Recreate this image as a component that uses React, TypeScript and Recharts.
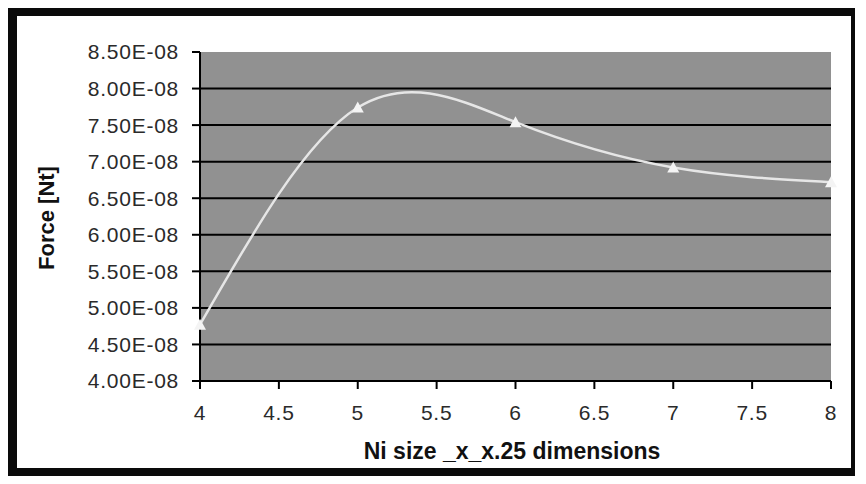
import { LineChart, Line, XAxis, YAxis, CartesianGrid } from 'recharts';

const sizes = [4, 5, 6, 7, 8];
const forces = [4.77e-8, 7.74e-8, 7.54e-8, 6.92e-8, 6.72e-8];
const xTicks = [4, 4.5, 5, 5.5, 6, 6.5, 7, 7.5, 8];
const yTicks = [4e-8, 4.5e-8, 5e-8, 5.5e-8, 6e-8, 6.5e-8, 7e-8, 7.5e-8, 8e-8, 8.5e-8];
const yMin = 4e-8;
const yMax = 8.5e-8;

const data = sizes.map((s, i) => ({ size: s, force: forces[i] }));

const fmtSci = (v: number) => {
  const [m, e] = v.toExponential(2).toUpperCase().split('E');
  const sign = e.startsWith('-') ? '-' : '+';
  const digits = e.replace(/[+-]/, '').padStart(2, '0');
  return `${m}E${sign}${digits}`;
};

const tickStyle = { fontFamily: '"Liberation Sans", Arial, sans-serif', fontSize: 21, fill: '#2a2a2a', letterSpacing: 0.75 };

const Triangle = (props: any) => {
  const { cx, cy } = props;
  if (cx == null || cy == null) return null;
  return <polygon points={`${cx},${cy - 6} ${cx - 6},${cy + 5} ${cx + 6},${cy + 5}`} fill="#f4f4f4" stroke="none" />;
};

// gridlines on inner ticks only (no line on the top edge)
const gridRows = ({ offset }: any) =>
  yTicks
    .filter((t) => t > yMin && t < yMax)
    .map((t) => offset.top + (offset.height * (yMax - t)) / (yMax - yMin));

export default function App() {
  return (
    <div style={{ position: 'relative', width: 866, height: 484, margin: -8, background: '#fff', overflow: 'hidden' }}>
      <div
        style={{
          position: 'absolute',
          left: 5,
          top: 8,
          width: 834,
          height: 452,
          borderStyle: 'solid',
          borderColor: '#0a0a0a',
          borderWidth: '8px 4px 12px 12px',
        }}
      />
      <div style={{ position: 'absolute', left: 0, top: 0 }}>
        <LineChart width={866} height={484} data={data} margin={{ top: 52, right: 35, bottom: 43, left: 0 }}>
          <CartesianGrid
            horizontal
            vertical={false}
            fill="#919191"
            stroke="#000"
            strokeWidth={2}
            horizontalCoordinatesGenerator={gridRows}
          />
          <XAxis
            dataKey="size"
            type="number"
            domain={[4, 8]}
            ticks={xTicks}
            height={60}
            tick={tickStyle}
            tickSize={8}
            tickMargin={16}
            axisLine={{ stroke: '#000', strokeWidth: 2 }}
            tickLine={{ stroke: '#000', strokeWidth: 2 }}
          />
          <YAxis
            type="number"
            domain={[yMin, yMax]}
            ticks={yTicks}
            width={200}
            tickFormatter={fmtSci}
            tick={tickStyle}
            tickSize={8}
            tickMargin={13}
            interval={0}
            axisLine={{ stroke: '#000', strokeWidth: 2 }}
            tickLine={{ stroke: '#000', strokeWidth: 2 }}
          />
          <Line
            type="natural"
            dataKey="force"
            stroke="#e6e6e6"
            strokeWidth={2.5}
            dot={<Triangle />}
            activeDot={false}
            isAnimationActive={false}
          />
        </LineChart>
      </div>
      <div
        style={{
          position: 'absolute',
          left: 47,
          top: 218,
          transform: 'translate(-50%, -50%) rotate(-90deg)',
          fontFamily: '"Liberation Sans", Arial, sans-serif',
          fontWeight: 'bold',
          fontSize: 22,
          color: '#111',
          whiteSpace: 'nowrap',
        }}
      >
        Force [Nt]
      </div>
      <div
        style={{
          position: 'absolute',
          left: 512,
          top: 451,
          transform: 'translate(-50%, -50%)',
          fontFamily: '"Liberation Sans", Arial, sans-serif',
          fontWeight: 'bold',
          fontSize: 23,
          color: '#111',
          whiteSpace: 'nowrap',
        }}
      >
        Ni size _x_x.25 dimensions
      </div>
    </div>
  );
}
